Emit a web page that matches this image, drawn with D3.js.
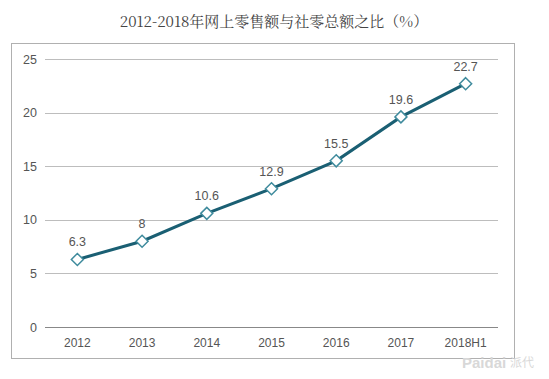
<!DOCTYPE html>
<html><head><meta charset="utf-8">
<script src="https://cdn.jsdelivr.net/npm/d3@7/dist/d3.min.js"></script>
<style>body{margin:0;background:#fff}svg{display:block}</style>
</head><body>
<svg id="c" width="549" height="379"></svg>
<script>
const categories = ["2012","2013","2014","2015","2016","2017","2018H1"];
const values = [6.3, 8, 10.6, 12.9, 15.5, 19.6, 22.7];
const valueLabels = ["6.3","8","10.6","12.9","15.5","19.6","22.7"];
const yTicks = [0,5,10,15,20,25];
const title = "2012-2018年网上零售额与社零总额之比（%）";

const svg = d3.select("#c");
svg.append("rect").attr("x",11.5).attr("y",43.5).attr("width",503).attr("height",315)
  .attr("fill","#fff").attr("stroke","#b0b0b0").attr("stroke-width",1);

svg.append("text").attr("x",274).attr("y",27).attr("text-anchor","middle")
  .attr("font-family","'Noto Serif CJK SC','Noto Sans CJK SC',serif").attr("font-size",15)
  .attr("fill","#444").text(title);

const x = d3.scaleBand().domain(categories).range([45,498]);
const y = d3.scaleLinear().domain([0,25]).range([327,59]);

const g = svg.append("g");
g.selectAll("line.grid").data(yTicks).join("line")
  .attr("x1",45).attr("x2",498)
  .attr("y1",d=>Math.round(y(d))+0.5).attr("y2",d=>Math.round(y(d))+0.5)
  .attr("stroke",d=>d===0?"#888":"#bdbdbd").attr("stroke-width",1);

g.selectAll("text.yt").data(yTicks).join("text")
  .attr("x",37).attr("y",d=>y(d)+4.5).attr("text-anchor","end")
  .attr("font-family","'Liberation Sans',Arial,sans-serif").attr("font-size",12.5)
  .attr("fill","#555").text(d=>d);

g.selectAll("text.xt").data(categories).join("text")
  .attr("x",d=>x(d)+x.bandwidth()/2).attr("y",347).attr("text-anchor","middle")
  .attr("font-family","'Liberation Sans',Arial,sans-serif").attr("font-size",12)
  .attr("fill","#555").text(d=>d);

const cx = (d,i)=>x(categories[i])+x.bandwidth()/2;
const line = d3.line().x((d,i)=>cx(d,i)).y(d=>y(d));
g.append("path").datum(values).attr("d",line).attr("fill","none")
  .attr("stroke","#1a5f73").attr("stroke-width",3);

const s = 6;
g.selectAll("path.m").data(values).join("path")
  .attr("d",(d,i)=>{const px=cx(d,i),py=y(d);return `M${px},${py-s}L${px+s},${py}L${px},${py+s}L${px-s},${py}Z`;})
  .attr("fill","#fff").attr("stroke","#3f8b9d").attr("stroke-width",1.5);

g.selectAll("text.v").data(values).join("text")
  .attr("x",(d,i)=>cx(d,i)).attr("y",d=>y(d)-13).attr("text-anchor","middle")
  .attr("font-family","'Liberation Sans',Arial,sans-serif").attr("font-size",12.5)
  .attr("fill","#555").text((d,i)=>valueLabels[i]);

svg.append("text").attr("x",462).attr("y",368)
  .attr("font-family","'Liberation Sans',Arial,sans-serif").attr("font-size",15).attr("font-weight","bold")
  .attr("fill","#d8d8d8").text("Paidai");
svg.append("text").attr("x",510).attr("y",367)
  .attr("font-family","'Noto Sans CJK SC',sans-serif").attr("font-size",12)
  .attr("fill","#d8d8d8").text("派代");
</script>
</body></html>
